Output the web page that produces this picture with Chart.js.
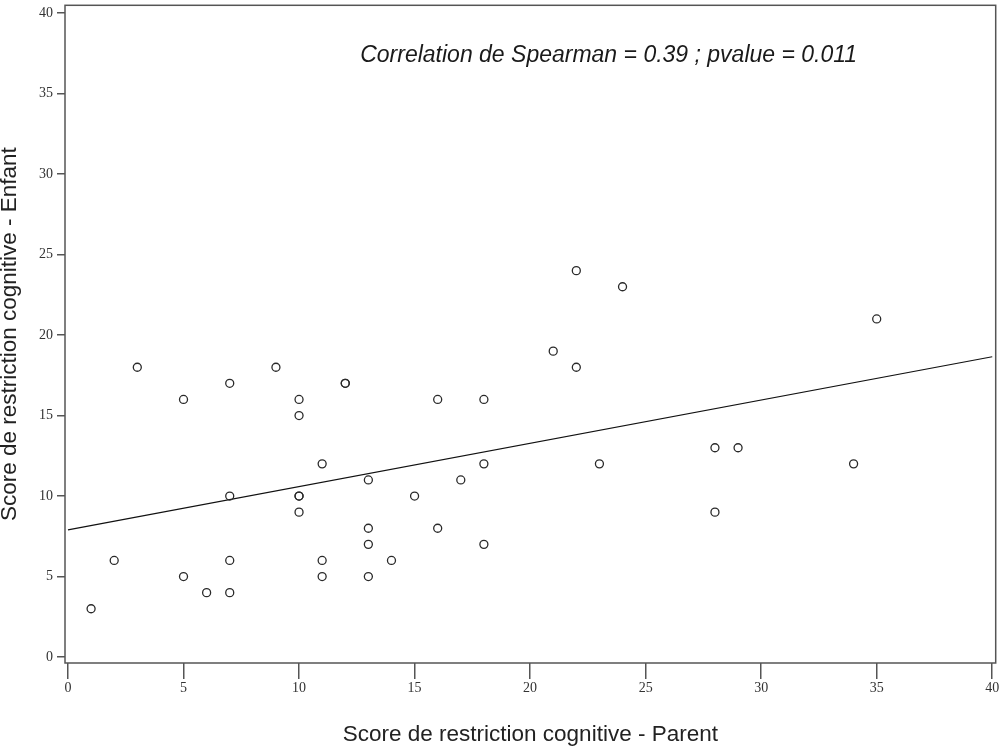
<!DOCTYPE html>
<html lang="fr">
<head>
    <meta charset="UTF-8">
    <title>Restriction cognitive</title>
    <script src="https://cdn.jsdelivr.net/npm/chart.js"></script>
    <style>
        html, body { margin: 0; padding: 0; background: #fff; }
        #wrap { width: 1001px; height: 747px; }
    </style>
</head>
<body>
    <div id="wrap"><canvas id="myChart" width="1001" height="747"></canvas></div>
    <script>
        // scores parent (x) / enfant (y)
        const parentScores = [1, 2, 3, 5, 5, 6, 7, 7, 7, 7, 9, 10, 10, 10, 10, 10, 11, 11, 11, 12, 12, 13, 13, 13, 13, 14, 15, 16, 16, 17, 18, 18, 18, 21, 22, 22, 23, 24, 28, 28, 29, 34, 35];
        const enfantScores = [3, 6, 18, 16, 5, 4, 17, 10, 6, 4, 18, 16, 15, 10, 10, 9, 12, 6, 5, 17, 17, 11, 8, 7, 5, 6, 10, 16, 8, 11, 16, 12, 7, 19, 24, 18, 12, 23, 13, 9, 13, 12, 21];
        // droite de regression
        const fitX = [0, 40];
        const fitY = [7.9, 18.65];
        const tickValues = [0, 5, 10, 15, 20, 25, 30, 35, 40];
        const noteText = 'Correlation de Spearman = 0.39 ; pvalue = 0.011';

        const points = parentScores.map((x, i) => ({ x: x, y: enfantScores[i] }));
        const fitLine = fitX.map((x, i) => ({ x: x, y: fitY[i] }));

        const frame = {
            id: 'frame',
            afterDraw(chart) {
                const a = chart.chartArea;
                const ctx = chart.ctx;
                ctx.save();
                ctx.strokeStyle = '#555';
                ctx.lineWidth = 1.5;
                ctx.strokeRect(a.left, a.top, a.right - a.left, a.bottom - a.top);
                ctx.font = 'italic 23px "Liberation Sans", Arial, sans-serif';
                ctx.fillStyle = '#1a1a1a';
                ctx.textAlign = 'center';
                ctx.textBaseline = 'alphabetic';
                ctx.fillText(noteText, chart.scales.x.getPixelForValue(23.4), chart.scales.y.getPixelForValue(36.97));
                ctx.restore();
            }
        };

        const tickFont = { family: '"Liberation Serif", "Times New Roman", serif', size: 14 };
        const titleFont = { family: '"Liberation Sans", Arial, sans-serif', size: 22.5 };

        new Chart(document.getElementById('myChart'), {
            type: 'scatter',
            data: {
                datasets: [{
                    data: points,
                    pointRadius: 4,
                    pointHoverRadius: 4,
                    pointBorderWidth: 1.3,
                    pointBorderColor: '#2a2a2a',
                    pointBackgroundColor: 'rgba(255,255,255,0)'
                }, {
                    type: 'line',
                    data: fitLine,
                    borderColor: '#111',
                    borderWidth: 1.2,
                    pointRadius: 0,
                    fill: false
                }]
            },
            options: {
                responsive: false,
                animation: false,
                layout: { padding: { top: 3, right: 1, left: 0, bottom: 0 } },
                plugins: { legend: { display: false }, tooltip: { enabled: false } },
                scales: {
                    x: {
                        type: 'linear',
                        min: -0.129,
                        max: 40.15,
                        afterBuildTicks(scale) { scale.ticks = tickValues.map(v => ({ value: v })); },
                        afterFit(scale) { scale.height = 84; scale.paddingLeft = 0; scale.paddingRight = 0; },
                        border: { display: false },
                        grid: { drawOnChartArea: false, drawTicks: true, tickLength: 16, color: '#555', lineWidth: 1.5 },
                        ticks: { color: '#333', font: tickFont, padding: 1, maxRotation: 0 },
                        title: {
                            display: true,
                            text: 'Score de restriction cognitive - Parent',
                            color: '#222',
                            font: titleFont,
                            padding: { top: 0, bottom: -1 }
                        }
                    },
                    y: {
                        type: 'linear',
                        min: -0.37,
                        max: 40.48,
                        afterBuildTicks(scale) { scale.ticks = tickValues.map(v => ({ value: v })); },
                        afterFit(scale) { scale.width = 65; scale.paddingTop = 0; scale.paddingBottom = 0; },
                        border: { display: false },
                        grid: { drawOnChartArea: false, drawTicks: true, tickLength: 8, color: '#555', lineWidth: 1.5 },
                        ticks: { color: '#333', font: tickFont, padding: 4 },
                        title: {
                            display: true,
                            text: 'Score de restriction cognitive - Enfant',
                            color: '#222',
                            font: titleFont,
                            padding: { top: -4, bottom: 0 }
                        }
                    }
                }
            },
            plugins: [frame]
        });
    </script>
</body>
</html>
